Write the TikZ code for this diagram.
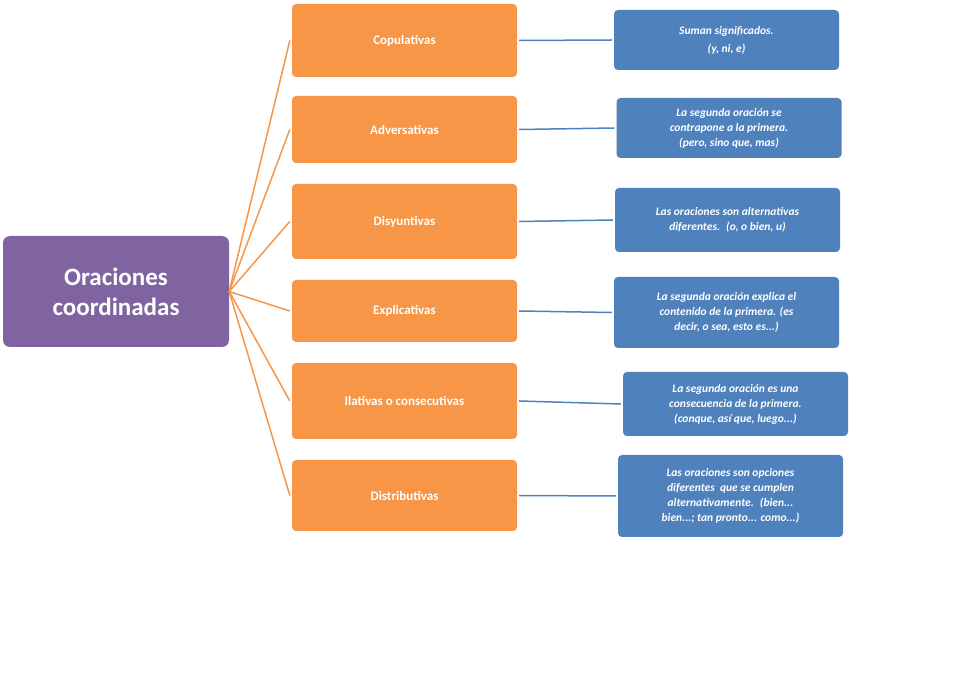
\documentclass[tikz,border=0pt]{standalone}
\usepackage{fontspec}
\setmainfont{Carlito}
\definecolor{pur}{HTML}{8064A2}
\definecolor{ora}{HTML}{F79646}
\definecolor{blu}{HTML}{4F81BD}
\begin{document}
\begin{tikzpicture}[x=1pt,y=-1pt,
 box/.style={rounded corners=4pt,text=white,font=\bfseries,align=center,inner sep=2pt},
 cat/.style={box,fill=ora,minimum width=225pt,font=\bfseries\fontsize{13}{15}\selectfont},
 desc/.style={box,fill=blu,minimum width=225pt,font=\bfseries\itshape\fontsize{11.5}{15}\selectfont},
 ol/.style={draw=ora,line width=1.5pt},
 bl/.style={draw=blu,line width=1.5pt}]
\useasboundingbox (0,0) rectangle (978,692);
\node[box,fill=pur,minimum width=226pt,minimum height=111pt,rounded corners=7pt,font=\bfseries\fontsize{25}{30}\selectfont] (m) at (116,291.5) {Oraciones\\coordinadas};
\node[cat,minimum height=73pt] (c1) at (404.5,40.5) {Copulativas};
\node[cat,minimum height=67pt] (c2) at (404.5,129.5) {Adversativas};
\node[cat,minimum height=75pt] (c3) at (404.5,221.5) {Disyuntivas};
\node[cat,minimum height=62pt] (c4) at (404.5,311) {Explicativas};
\node[cat,minimum height=76pt] (c5) at (404.5,401) {Ilativas o consecutivas};
\node[cat,minimum height=71pt] (c6) at (404.5,495.5) {Distributivas};
\node[desc,minimum height=60pt] (d1) at (726.5,40) {Suman significados.\\[3pt](y, ni, e)};
\node[desc,minimum height=60pt] (d2) at (729,128) {La segunda oración se\\contrapone a la primera.\\(pero, sino que, mas)};
\node[desc,minimum height=64pt] (d3) at (727.5,220) {Las oraciones son alternativas\\diferentes.~ (o, o bien, u)};
\node[desc,minimum height=71pt] (d4) at (726.5,312.5) {La segunda oración explica el\\contenido de la primera. (es\\decir, o sea, esto es...)};
\node[desc,minimum height=64pt] (d5) at (735.5,404) {La segunda oración es una\\consecuencia de la primera.\\(conque, así que, luego...)};
\node[desc,minimum height=82pt] (d6) at (730.5,496) {Las oraciones son opciones\\diferentes~ que se cumplen\\alternativamente.~ (bien...\\bien...; tan pronto... como...)};
\foreach \i in {1,...,6}{
 \draw[ol] (m.east) -- ([xshift=-2pt]c\i.west);
 \draw[bl] ([xshift=2pt]c\i.east) -- ([xshift=-2pt]d\i.west);
}
\end{tikzpicture}
\end{document}
